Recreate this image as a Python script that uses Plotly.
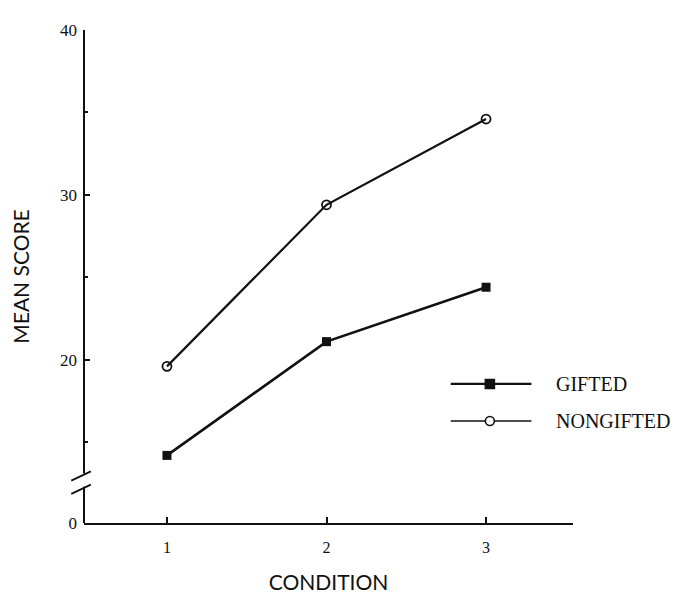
import plotly.graph_objects as go

# ---- data ----
conditions = [1, 2, 3]
gifted = [14.2, 21.1, 24.4]
nongifted = [19.6, 29.4, 34.6]

y_tick_vals_real = [20, 30, 40]
y_tick_labels_real = ["20", "30", "40"]
zero_label = "0"
x_tick_labels = ["1", "2", "3"]

# axis layout (broken y-axis: bottom of the axis stands for 0)
Y_BOTTOM = 10.1
Y_TOP = 40
BREAK_LO, BREAK_HI = 12.3, 13.1
X_RANGE = [0.48, 3.545]

INK = "#111111"
y_tick_font = dict(family="Liberation Serif", size=17, color=INK)
x_tick_font = dict(family="Liberation Serif", size=16, color=INK)
title_font = dict(family="Lato", size=21, color=INK)
legend_font = dict(family="Liberation Serif", size=20, color=INK)

fig = go.Figure()

fig.add_trace(go.Scatter(
    x=conditions, y=nongifted, mode="lines+markers", name="NONGIFTED",
    line=dict(color=INK, width=2.2),
    marker=dict(symbol="circle-open", size=9, color=INK, line=dict(width=1.8)),
    showlegend=False,
))
fig.add_trace(go.Scatter(
    x=conditions, y=gifted, mode="lines+markers", name="GIFTED",
    line=dict(color=INK, width=2.6),
    marker=dict(symbol="square", size=9, color=INK),
    showlegend=False,
))

shapes = []
# y-axis line drawn in two pieces with a gap (axis break)
shapes.append(dict(type="line", xref="paper", yref="y", x0=0, x1=0, y0=BREAK_HI, y1=Y_TOP,
                   line=dict(color=INK, width=2)))
shapes.append(dict(type="line", xref="paper", yref="y", x0=0, x1=0, y0=Y_BOTTOM, y1=BREAK_LO,
                   line=dict(color=INK, width=2)))
# break marks
for yc in (BREAK_HI - 0.15, BREAK_LO - 0.15):
    shapes.append(dict(type="line", xref="paper", yref="y",
                       x0=-0.026, x1=0.014, y0=yc - 0.28, y1=yc + 0.28,
                       line=dict(color=INK, width=1.8)))

# manual legend (long sample lines like the reference)
legend_items = [("GIFTED", "square", True, 0.282), ("NONGIFTED", "circle", False, 0.207)]
LX0, LX1, LXM, LXT = 0.75, 0.915, 0.83, 0.962
annotations = []
for label, sym, filled, yp in legend_items:
    shapes.append(dict(type="line", xref="paper", yref="paper", x0=LX0, x1=LX1, y0=yp, y1=yp,
                       line=dict(color=INK, width=2.2 if filled else 1.6)))
    shapes.append(dict(type="rect" if sym == "square" else "circle",
                       xref="paper", yref="paper", xsizemode="pixel", ysizemode="pixel",
                       xanchor=LXM, yanchor=yp, x0=-4.5, x1=4.5, y0=-4.5, y1=4.5,
                       fillcolor=INK if filled else "white",
                       line=dict(color=INK, width=1.6)))
    annotations.append(dict(xref="paper", yref="paper", x=LXT, y=yp, text=label,
                            showarrow=False, xanchor="left", yanchor="middle", font=legend_font))

fig.update_layout(
    width=679, height=595,
    margin=dict(l=76, r=114, t=22, b=75),
    paper_bgcolor="white", plot_bgcolor="white",
    shapes=shapes, annotations=annotations,
    showlegend=False,
)

fig.update_xaxes(
    range=X_RANGE, tickvals=conditions, ticktext=x_tick_labels,
    showgrid=False, zeroline=False, showline=True, linecolor=INK, linewidth=2,
    ticks="inside", ticklen=6, tickwidth=1.5, tickcolor=INK,
    tickfont=x_tick_font, ticklabelstandoff=9,
    title=dict(text="CONDITION", font=title_font, standoff=20),
)
fig.update_yaxes(
    range=[Y_BOTTOM, Y_TOP],
    tickvals=[Y_BOTTOM] + y_tick_vals_real, ticktext=[zero_label] + y_tick_labels_real,
    showgrid=False, zeroline=False, showline=False,
    ticks="inside", ticklen=6, tickwidth=1.5, tickcolor=INK,
    minor=dict(ticks="inside", ticklen=4, tickwidth=1.5, tickcolor=INK, dtick=5, tick0=0),
    tickfont=y_tick_font, ticklabelstandoff=6,
    title=dict(text="MEAN SCORE", font=title_font, standoff=24),
)

fig.write_html("out.html")
